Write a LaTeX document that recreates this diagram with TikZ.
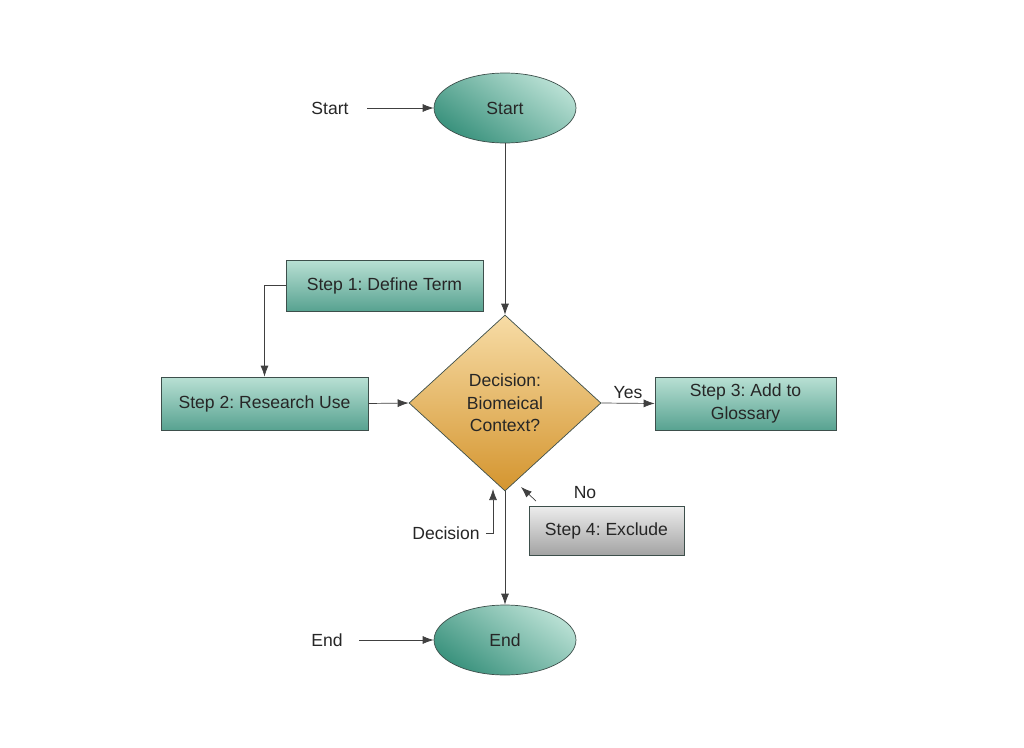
\documentclass[tikz,border=0pt]{standalone}
\usepackage{fontspec}
\setmainfont{Liberation Sans}
\usepackage{xcolor}
\usetikzlibrary{arrows.meta,positioning,shapes.geometric,calc}
\frenchspacing
\definecolor{tealdark}{HTML}{3A927D}
\definecolor{teallight}{HTML}{B9E0D4}
\definecolor{golddark}{HTML}{D4952F}
\definecolor{goldlight}{HTML}{F7DCA6}
\definecolor{greydark}{HTML}{A3A3A3}
\definecolor{greylight}{HTML}{EDEDED}
\definecolor{edgegrey}{HTML}{3D4F4B}
\tikzset{
  flowterm/.style={ellipse, draw=edgegrey, thin, minimum width=2.84cm, minimum height=1.4cm, inner sep=0pt,
    top color=teallight, bottom color=tealdark, shading angle=-35},
  flowstep/.style={draw=edgegrey, thin, align=center, inner sep=2pt, minimum height=1.06cm,
    top color=teallight, bottom color=tealdark!85},
  flowdecide/.style={diamond, draw=edgegrey, thin, align=center, inner sep=0pt, minimum width=3.84cm, minimum height=3.52cm,
    top color=goldlight, bottom color=golddark},
  flowexclude/.style={draw=edgegrey, thin, align=center, inner sep=2pt, minimum width=3.1cm, minimum height=0.98cm,
    top color=greylight, bottom color=greydark},
  flowarrow/.style={-{Latex[length=2.2mm,width=1.6mm]}, draw=black!75, thin}
}

\begin{document}
\begin{tikzpicture}[x=0.02cm, y=-0.02cm, every node/.style={font=\fontsize{10}{12.8}\selectfont, text=black!85}]
\useasboundingbox (0,0) rectangle (1024,747);
% terminals
\node[flowterm] (start) at (505,108) {Start};
\node[flowterm] (end) at (505,640) {End};
\node (startlab) at (330,108) {Start};
\node (endlab) at (327,640) {End};

% steps
\node[flowstep, minimum width=3.94cm, minimum height=1.02cm] (step1) at (384.5,285.5) {Step 1: Define Term};
\node[flowstep, minimum width=4.14cm] (step2) at (264.5,403.5) {Step 2: Research Use};
\node[flowdecide] (dec) at (505,403) {Decision:\\Biomeical\\Context?};
\node[flowstep, minimum width=3.62cm] (step3) at (745.5,403.5) {Step 3: Add to\\Glossary};
\node[flowexclude] (step4) at (606.5,530.5) {Step 4: Exclude};
\node (declab) at (446,533) {Decision};
\node (nolab) at (585,493) {No};

% connectors
\draw[flowarrow, shorten <=7pt] (startlab.east) -- (start.west);
\draw[flowarrow, shorten <=6pt] (endlab.east) -- (end.west);
\draw[flowarrow] (start.south) -- (dec.north);
\draw[flowarrow] (step1.west) -| (step2.north);
\draw[flowarrow] (step2.east) -- (dec.west);
\draw[flowarrow] (dec.east) -- (step3.west) node[midway, above=-1pt] {Yes};
\draw[flowarrow] (dec.south) -- (end.north);
\coordinate (decpoint) at (493,489);
\draw[flowarrow] (declab.east) -| (decpoint);
\coordinate (notail) at (536,501);
\coordinate (nohead) at (521,487);
\draw[flowarrow] (notail) -- (nohead);
\end{tikzpicture}
\end{document}
